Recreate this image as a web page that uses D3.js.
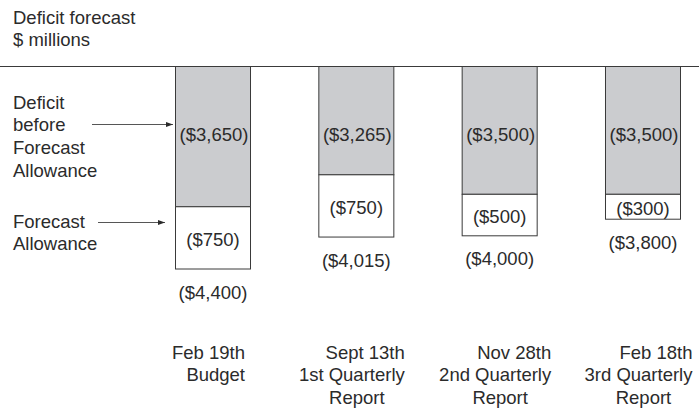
<!DOCTYPE html>
<html>
<head>
<meta charset="utf-8">
<script src="https://cdn.jsdelivr.net/npm/d3@7"></script>
<style>
  html, body { margin: 0; padding: 0; background: #fff; }
  svg { display: block; }
  text { font-family: "Liberation Sans", Arial, Helvetica, sans-serif; fill: #2b2b2b; }
</style>
</head>
<body>
<div id="chart"></div>
<script>
// ---- data ----
const categories = ["Feb 19th Budget", "Sept 13th 1st Quarterly Report", "Nov 28th 2nd Quarterly Report", "Feb 18th 3rd Quarterly Report"];
const categoryLines = [
  ["Feb 19th", "Budget"],
  ["Sept 13th", "1st Quarterly", "Report"],
  ["Nov 28th", "2nd Quarterly", "Report"],
  ["Feb 18th", "3rd Quarterly", "Report"]
];
const deficitBeforeAllowance = [3650, 3265, 3500, 3500];
const forecastAllowance = [750, 750, 500, 300];
const totalDeficit = [4400, 4015, 4000, 3800];
const titleLines = ["Deficit forecast", "$ millions"];
const seriesNames = [["Deficit", "before", "Forecast", "Allowance"], ["Forecast", "Allowance"]];
// truncated value axis (bars start at the top rule)
const valueDomain = [1960, 4400];
const grayLabelLevel = 2780;

// ---- layout ----
const W = 699, H = 409;
const fs = 18.5, lh = 22.7;
const svg = d3.select("#chart").append("svg").attr("width", W).attr("height", H);

const x = d3.scaleBand().domain(categories).range([175, 680]).paddingInner(0.4767).paddingOuter(0);
const y = d3.scaleLinear().domain(valueDomain).range([66.5, 269]);
const fmt = v => "($" + d3.format(",")(v) + ")";

const rows = categories.map((c, i) => ({
  cat: c, lines: categoryLines[i],
  before: deficitBeforeAllowance[i], allow: forecastAllowance[i], total: totalDeficit[i]
}));

// top rule
svg.append("line").attr("x1", 0).attr("x2", W).attr("y1", y(valueDomain[0])).attr("y2", y(valueDomain[0]))
  .attr("stroke", "#3a3a3a").attr("stroke-width", 1);

// title
svg.append("g").selectAll("text").data(titleLines).join("text")
  .attr("x", 13).attr("y", (d, i) => 17 + i * lh)
  .attr("dominant-baseline", "central").attr("font-size", fs).text(d => d);

// gray segment
const g = svg.append("g");
g.selectAll("rect.before").data(rows).join("rect").attr("class", "before")
  .attr("x", d => x(d.cat) + 0.5).attr("width", x.bandwidth())
  .attr("y", y(valueDomain[0])).attr("height", d => y(d.before) - y(valueDomain[0]))
  .attr("fill", "#cbcccf").attr("stroke", "#3a3a3a").attr("stroke-width", 1);
// white segment
g.selectAll("rect.allow").data(rows).join("rect").attr("class", "allow")
  .attr("x", d => x(d.cat) + 0.5).attr("width", x.bandwidth())
  .attr("y", d => y(d.before)).attr("height", d => y(d.before + d.allow) - y(d.before))
  .attr("fill", "#ffffff").attr("stroke", "#3a3a3a").attr("stroke-width", 1);

// labels
g.selectAll("text.before").data(rows).join("text").attr("class", "before")
  .attr("x", d => x(d.cat) + x.bandwidth() / 2 + 1.5).attr("y", y(grayLabelLevel))
  .attr("text-anchor", "middle").attr("dominant-baseline", "central").attr("font-size", fs)
  .text(d => fmt(d.before));
g.selectAll("text.allow").data(rows).join("text").attr("class", "allow")
  .attr("x", d => x(d.cat) + x.bandwidth() / 2 + 0.5).attr("y", d => (y(d.before) + y(d.before + d.allow)) / 2 + 1.5)
  .attr("text-anchor", "middle").attr("dominant-baseline", "central").attr("font-size", fs)
  .text(d => fmt(d.allow));
g.selectAll("text.total").data(rows).join("text").attr("class", "total")
  .attr("x", d => x(d.cat) + x.bandwidth() / 2 + 0.5).attr("y", d => y(d.total) + 23)
  .attr("text-anchor", "middle").attr("dominant-baseline", "central").attr("font-size", fs)
  .text(d => fmt(d.total));

// category labels: first two lines right-aligned as a block, "Report" centred
const cg = svg.append("g").selectAll("g").data(rows).join("g");
cg.each(function(d) {
  const grp = d3.select(this);
  const cx = x(d.cat) + x.bandwidth() / 2;
  const texts = grp.selectAll("text").data(d.lines.map((l, j) => ({ l, j }))).join("text")
    .attr("y", t => 352 + t.j * lh)
    .attr("dominant-baseline", "central").attr("font-size", fs)
    .text(t => t.l);
  let maxW = 0;
  texts.filter(t => t.j < 2).each(function() { maxW = Math.max(maxW, this.getComputedTextLength()); });
  const right = cx - 4 + maxW / 2;
  texts.attr("x", t => t.j < 2 ? right : cx + 1)
    .attr("text-anchor", t => t.j < 2 ? "end" : "middle");
});

// series annotations with arrows
svg.append("defs").append("marker").attr("id", "ah")
  .attr("viewBox", "0 0 10 10").attr("refX", 10).attr("refY", 5)
  .attr("markerWidth", 7).attr("markerHeight", 7).attr("markerUnits", "userSpaceOnUse").attr("orient", "auto")
  .append("path").attr("d", "M0,1.5 L10,5 L0,8.5 Z").attr("fill", "#2b2b2b");

const annY0 = [102, 221];
seriesNames.forEach((lines, k) => {
  svg.append("g").selectAll("text").data(lines).join("text")
    .attr("x", 13).attr("y", (d, i) => annY0[k] + i * lh)
    .attr("dominant-baseline", "central").attr("font-size", fs).text(d => d);
});
const firstBar = x(categories[0]);
svg.append("line").attr("x1", 92).attr("x2", firstBar - 2).attr("y1", 124.5).attr("y2", 124.5)
  .attr("stroke", "#2b2b2b").attr("stroke-width", 0.8).attr("marker-end", "url(#ah)");
svg.append("line").attr("x1", 98).attr("x2", firstBar - 10).attr("y1", 222.5).attr("y2", 222.5)
  .attr("stroke", "#2b2b2b").attr("stroke-width", 0.8).attr("marker-end", "url(#ah)");
</script>
</body>
</html>
